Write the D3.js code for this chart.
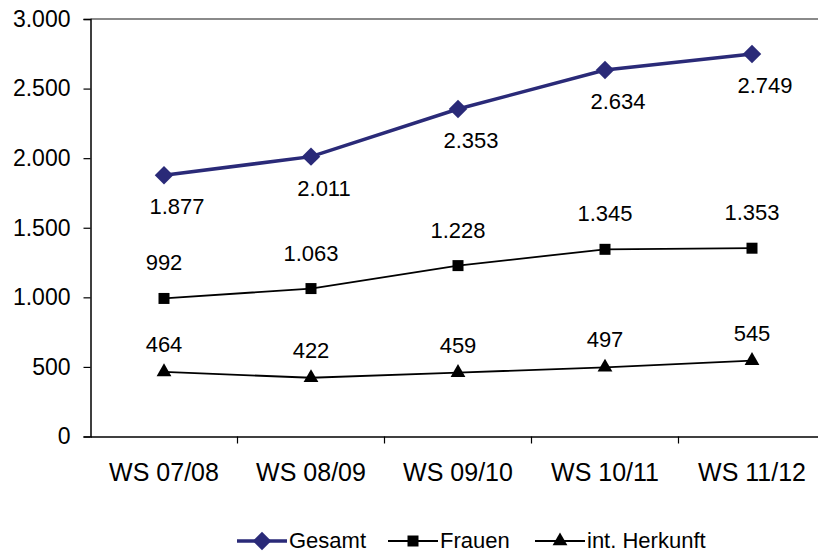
<!DOCTYPE html>
<html>
<head>
<meta charset="utf-8">
<script src="https://cdn.jsdelivr.net/npm/d3@7"></script>
<style>
  html, body { margin: 0; padding: 0; background: #fff; }
  svg { display: block; font-family: "Liberation Sans", Arial, sans-serif; }
</style>
</head>
<body>
<svg id="chart" width="818" height="553"></svg>
<script>
// Semester categories
const semesters = ["WS 07/08", "WS 08/09", "WS 09/10", "WS 10/11", "WS 11/12"];
// Student counts per series
const gesamt = [1877, 2011, 2353, 2634, 2749];
const frauen = [992, 1063, 1228, 1345, 1353];
const herkunft = [464, 422, 459, 497, 545];
// Y axis ticks
const yTicks = [0, 500, 1000, 1500, 2000, 2500, 3000];

const series = [
  { name: "Gesamt", values: gesamt, color: "#2a2a78", width: 3.5, symbol: d3.symbolSquare, rotate: 45, size: 170, labelDx: 13, labelDy: 39 },
  { name: "Frauen", values: frauen, color: "#000", width: 1.8, symbol: d3.symbolSquare, rotate: 0, size: 121, labelDx: 0, labelDy: -28 },
  { name: "int. Herkunft", values: herkunft, color: "#000", width: 1.8, symbol: d3.symbolTriangle, rotate: 0, size: 95, labelDx: 0, labelDy: -20 }
];

const fmt = v => d3.format(",")(v).replace(/,/g, ".");

const svg = d3.select("#chart");
const plotLeft = 90.5, plotRight = 825.5, plotTop = 19, plotBottom = 436.5;

const x = d3.scaleBand().domain(semesters).range([plotLeft, plotRight]);
const y = d3.scaleLinear().domain([0, 3000]).range([plotBottom, plotTop]);

// top frame line
svg.append("line")
  .attr("x1", plotLeft).attr("x2", plotRight)
  .attr("y1", plotTop).attr("y2", plotTop)
  .attr("stroke", "#8a8a8a").attr("stroke-width", 2);

// y axis
const yAxis = svg.append("g")
  .attr("transform", `translate(${plotLeft},0)`)
  .call(d3.axisLeft(y).tickValues(yTicks).tickFormat(fmt).tickSize(7).tickPadding(13));
yAxis.select(".domain").attr("stroke", "#000").attr("stroke-width", 1.5);
yAxis.selectAll(".tick line").attr("stroke", "#000").attr("stroke-width", 1.2);
yAxis.selectAll(".tick text").attr("font-size", 23).attr("fill", "#000")
  .attr("font-family", "Liberation Sans, Arial, sans-serif");

// x axis with ticks at category boundaries
const xAxis = svg.append("g")
  .attr("transform", `translate(0,${plotBottom})`)
  .call(d3.axisBottom(x).tickSize(0).tickPadding(27));
xAxis.select(".domain").attr("stroke", "#000").attr("stroke-width", 1.5);
xAxis.selectAll(".tick text").attr("font-size", 25).attr("fill", "#000")
  .attr("font-family", "Liberation Sans, Arial, sans-serif");
xAxis.selectAll(".bound")
  .data(semesters.slice(1))
  .enter().append("line")
  .attr("x1", d => x(d)).attr("x2", d => x(d))
  .attr("y1", 0).attr("y2", 7)
  .attr("stroke", "#000").attr("stroke-width", 1.2);

const cx = d => x(d) + x.bandwidth() / 2;
const line = d3.line().x((d, i) => cx(semesters[i])).y(d => y(d));

series.forEach(s => {
  const g = svg.append("g");
  g.append("path")
    .attr("d", line(s.values))
    .attr("fill", "none")
    .attr("stroke", s.color)
    .attr("stroke-width", s.width);
  g.selectAll(".pt")
    .data(s.values)
    .enter().append("path")
    .attr("d", d3.symbol().type(s.symbol).size(s.size))
    .attr("transform", (d, i) => `translate(${cx(semesters[i])},${y(d)}) rotate(${s.rotate})`)
    .attr("fill", s.color);
  g.selectAll(".lbl")
    .data(s.values)
    .enter().append("text")
    .attr("x", (d, i) => cx(semesters[i]) + s.labelDx)
    .attr("y", d => y(d) + s.labelDy)
    .attr("text-anchor", "middle")
    .attr("font-size", 22)
    .attr("fill", "#000")
    .text(fmt);
});

// legend
const legendX = [237, 388, 535];
const legend = svg.append("g");
series.forEach((s, i) => {
  const lx = legendX[i], ly = 541;
  legend.append("line")
    .attr("x1", lx).attr("x2", lx + 50)
    .attr("y1", ly).attr("y2", ly)
    .attr("stroke", s.color).attr("stroke-width", s.width);
  legend.append("path")
    .attr("d", d3.symbol().type(s.symbol).size(s.size))
    .attr("transform", `translate(${lx + 25},${ly}) rotate(${s.rotate})`)
    .attr("fill", s.color);
  legend.append("text")
    .attr("x", lx + 52).attr("y", ly + 7)
    .attr("font-size", 22).attr("fill", "#000")
    .text(s.name);
});
</script>
</body>
</html>
